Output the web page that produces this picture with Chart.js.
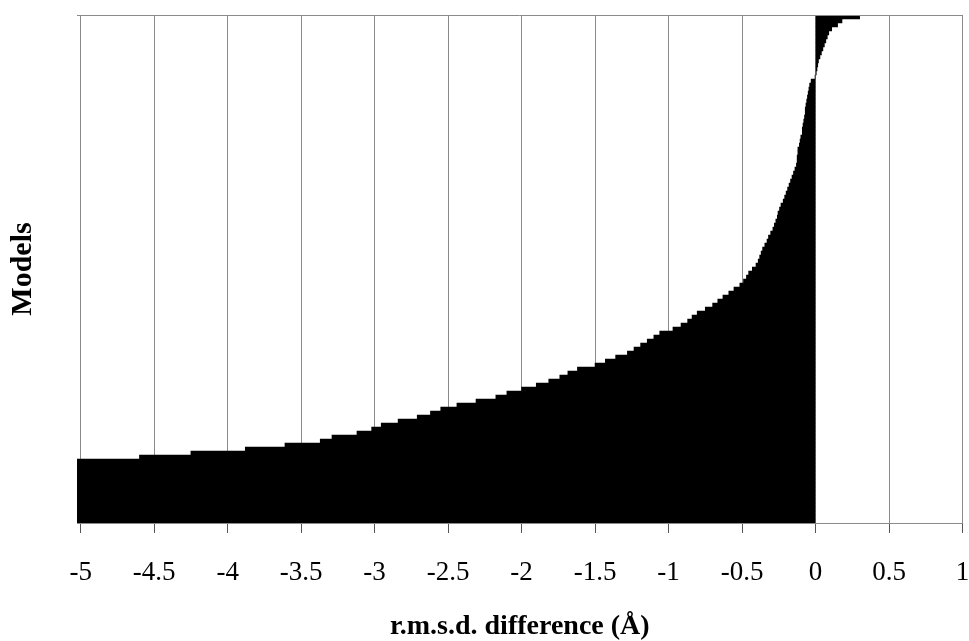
<!DOCTYPE html>
<html lang="en">
<head>
    <meta charset="UTF-8">
    <title>r.m.s.d. difference per model</title>
    <script src="https://cdn.jsdelivr.net/npm/chart.js"></script>
    <style>
        html, body {
            margin: 0;
            padding: 0;
            background: #fff;
            overflow: hidden;
        }
        #wrap {
            position: relative;
            width: 969px;
            height: 641px;
        }
        canvas {
            display: block;
        }
    </style>
</head>
<body>
    <div id="wrap"><canvas id="rmsdChart"></canvas></div>
    <script>
        // r.m.s.d. difference (A) per model, sorted, top row first
        const rmsdDiff = [
            0.30, 0.18, 0.15, 0.11, 0.09, 0.08, 0.07, 0.06, 0.05, 0.04, 0.03, 0.02, 0.015, 0.01, 0.005, -0.003,
            -0.03, -0.04, -0.045, -0.05, -0.055, -0.06, -0.065, -0.07, -0.07, -0.075, -0.08, -0.085, -0.09, -0.09, -0.10, -0.105,
            -0.11, -0.12, -0.12, -0.125, -0.125, -0.13, -0.14, -0.15, -0.16, -0.17, -0.18, -0.19, -0.20, -0.21, -0.22, -0.235,
            -0.245, -0.255, -0.26, -0.27, -0.28, -0.29, -0.305, -0.32, -0.33, -0.345, -0.36, -0.37, -0.38, -0.39, -0.405, -0.43,
            -0.455, -0.47, -0.49, -0.515, -0.555, -0.59, -0.63, -0.665, -0.70, -0.75, -0.805, -0.84, -0.87, -0.915, -0.97, -1.06,
            -1.10, -1.145, -1.19, -1.235, -1.28, -1.36, -1.43, -1.50, -1.62, -1.685, -1.74, -1.815, -1.90, -2.00, -2.10, -2.175,
            -2.31, -2.44, -2.55, -2.62, -2.71, -2.84, -2.955, -3.02, -3.12, -3.29, -3.37, -3.61, -3.88, -4.25, -4.6,
            -5.1, -5.2, -5.3, -5.4, -5.5, -5.6, -5.8, -6.0, -6.2, -6.4, -6.7, -7.0, -7.4, -7.9, -8.5, -9.2
        ];
        // one category per model
        const models = rmsdDiff.map((v, i) => 'Model ' + (i + 1));
        const tickVals = [-5, -4.5, -4, -3.5, -3, -2.5, -2, -1.5, -1, -0.5, 0, 0.5, 1];

        const gridGray = '#8a8a8a';
        const serif = '"Liberation Serif", "Times New Roman", serif';

        // thin line along the top of the plot area
        const topFrame = {
            id: 'topFrame',
            afterDatasetsDraw(chart) {
                const {ctx, chartArea} = chart;
                ctx.save();
                ctx.strokeStyle = gridGray;
                ctx.lineWidth = 1;
                ctx.beginPath();
                ctx.moveTo(chartArea.left, chartArea.top + 0.5);
                ctx.lineTo(chartArea.right, chartArea.top + 0.5);
                ctx.stroke();
                ctx.restore();
            }
        };

        new Chart(document.getElementById('rmsdChart'), {
            type: 'bar',
            data: {
                labels: models,
                datasets: [{
                    label: 'r.m.s.d. difference',
                    data: rmsdDiff,
                    backgroundColor: '#000',
                    borderWidth: 0,
                    barPercentage: 1,
                    categoryPercentage: 1
                }]
            },
            options: {
                indexAxis: 'y',
                responsive: true,
                maintainAspectRatio: false,
                animation: false,
                layout: {
                    padding: {top: 15, right: 0, bottom: 0, left: 0}
                },
                plugins: {
                    legend: {display: false},
                    tooltip: {enabled: false}
                },
                scales: {
                    x: {
                        type: 'linear',
                        min: -5.025,
                        max: 1,
                        afterBuildTicks: s => {
                            s.ticks = tickVals.map(v => ({value: v}));
                        },
                        afterFit: s => {
                            s.height = 118;
                            // room for the half width of the last label only
                            s.paddingRight = 6.5;
                            s.paddingLeft = 0;
                        },
                        grid: {
                            color: gridGray,
                            lineWidth: 1,
                            drawTicks: true,
                            tickLength: 10,
                            tickColor: '#555'
                        },
                        border: {display: true, color: gridGray},
                        ticks: {
                            color: '#000',
                            padding: 24,
                            maxRotation: 0,
                            font: {family: serif, size: 27},
                            callback: v => String(v)
                        },
                        title: {
                            display: true,
                            text: 'r.m.s.d. difference (Å)',
                            color: '#000',
                            padding: {top: 0, bottom: 0},
                            font: {family: serif, size: 28, weight: 'bold', lineHeight: 1}
                        }
                    },
                    y: {
                        type: 'category',
                        afterFit: s => {
                            s.width = 77;
                        },
                        grid: {display: false},
                        border: {display: false},
                        ticks: {display: false},
                        title: {
                            display: true,
                            text: 'Models',
                            color: '#000',
                            padding: {top: 8, bottom: 0},
                            font: {family: serif, size: 30, weight: 'bold', lineHeight: 1}
                        }
                    }
                }
            },
            plugins: [topFrame]
        });
    </script>
</body>
</html>
